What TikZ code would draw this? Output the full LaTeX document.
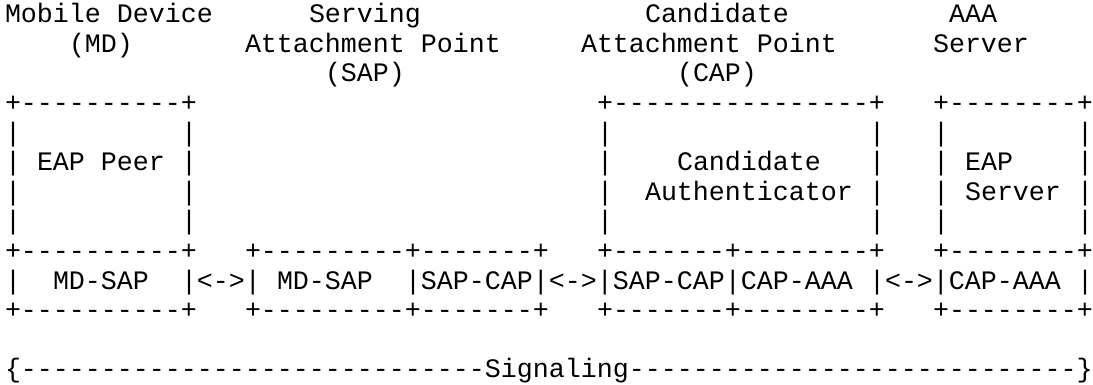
\documentclass[tikz,border=0pt]{standalone}
\usepackage{fontspec}
\setmonofont{Liberation Mono}

\tikzset{
  asc/.style={font=\ttfamily\fontsize{13.33pt}{14.8pt}\selectfont,
    inner sep=0pt, outer sep=0pt, anchor=base west},
}

\begin{document}
\begin{tikzpicture}[x=8pt,y=-14.8pt]
  \useasboundingbox (-0.3125,0) rectangle (68,13);

  % ---- Headings ------------------------------------------------
  \node[asc] (md-name)  at (0,0.77)  {Mobile Device};
  \node[asc] (sap-name) at (19,0.77) {Serving};
  \node[asc] (cap-name) at (40,0.77) {Candidate};
  \node[asc] (aaa-name) at (59,0.77) {AAA};
  \node[asc] (md-abbr)  at (4,1.77)  {(MD)};
  \node[asc] (sap-att)  at (15,1.77) {Attachment Point};
  \node[asc] (cap-att)  at (36,1.77) {Attachment Point};
  \node[asc] (aaa-srv)  at (58,1.77) {Server};
  \node[asc] (sap-abbr) at (20,2.77) {(SAP)};
  \node[asc] (cap-abbr) at (42,2.77) {(CAP)};

  % ---- Upper boxes ---------------------------------------------
  \node[asc] (md-top)  at (0,3.77)  {+----------+};
  \node[asc] (cap-top) at (37,3.77) {+----------------+};
  \node[asc] (aaa-top) at (58,3.77) {+--------+};
  % sides
  \foreach \r in {4,...,7}
    \foreach \c in {0,11,37,54,58,67}
      \node[asc] (side-\r-\c) at (\c,\r+0.77) {|};
  % contents
  \node[asc] (eap-peer) at (2,5.77)  {EAP Peer};
  \node[asc] (cand-a)   at (42,5.77) {Candidate};
  \node[asc] (cand-b)   at (40,6.77) {Authenticator};
  \node[asc] (eap-sa)   at (60,5.77) {EAP};
  \node[asc] (eap-sb)   at (60,6.77) {Server};

  % ---- Signaling row -------------------------------------------
  \foreach \r in {8,10} {
    \node[asc] (md-rule-\r)  at (0,\r+0.77)  {+----------+};
    \node[asc] (sap-rule-\r) at (15,\r+0.77) {+---------+-------+};
    \node[asc] (cap-rule-\r) at (37,\r+0.77) {+-------+--------+};
    \node[asc] (aaa-rule-\r) at (58,\r+0.77) {+--------+};
  }
  \node[asc] (md-left)  at (0,9.77)  {|};
  \node[asc] (md-sap)   at (3,9.77)  {MD-SAP};
  \node[asc] (link-a)   at (11,9.77) {|<->|};
  \node[asc] (sap-md)   at (17,9.77) {MD-SAP};
  \node[asc] (link-b)   at (25,9.77) {|SAP-CAP|<->|SAP-CAP|CAP-AAA};
  \node[asc] (link-c)   at (54,9.77) {|<->|CAP-AAA};
  \node[asc] (aaa-right) at (67,9.77) {|};

  % ---- Span ----------------------------------------------------
  \node[asc] (signaling) at (0,12.77)
    {\{-----------------------------Signaling----------------------------\}};

\end{tikzpicture}
\end{document}
